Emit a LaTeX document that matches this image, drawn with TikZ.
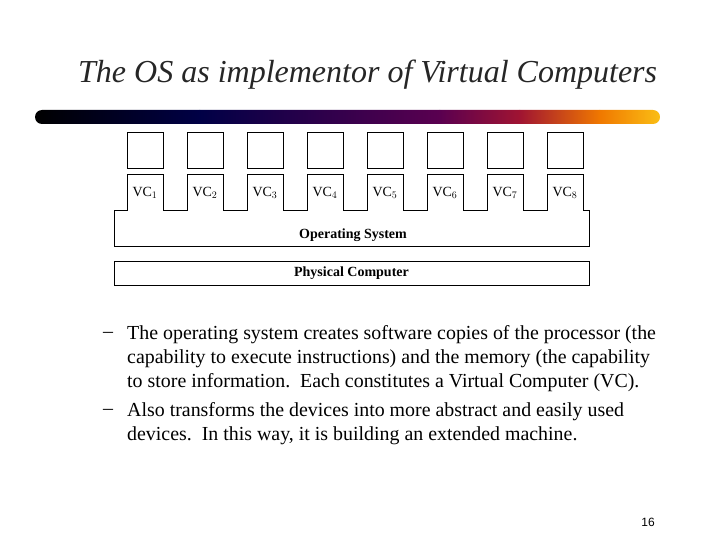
\documentclass[tikz,border=0pt]{standalone}
\usepackage{fontspec}
\setmainfont{Liberation Serif}
\setsansfont{Liberation Sans}
\begin{document}
\begin{tikzpicture}[x=1pt,y=-1pt,
  box/.style={draw,line width=0.8pt},
  lab/.style={font=\fontsize{14}{16}\selectfont},
  body/.style={font=\fontsize{19.9}{24}\selectfont,anchor=west,inner sep=0pt}]
\useasboundingbox (0,0) rectangle (720,540);
\node[anchor=west,inner sep=0pt,font=\fontsize{32}{36}\selectfont\itshape,text=black!85] (title) at (78,75) {The OS as implementor of Virtual Computers};
% gradient bar
\begin{scope}
\clip[rounded corners=7pt] (35,110) rectangle (660,124);
\shade[left color=black,right color={rgb,255:red,0;green,0;blue,70}] (35,110) rectangle (200,124);
\shade[left color={rgb,255:red,0;green,0;blue,70},right color={rgb,255:red,90;green,0;blue,80}] (199.5,110) rectangle (440,124);
\shade[left color={rgb,255:red,90;green,0;blue,80},right color={rgb,255:red,160;green,20;blue,50}] (439.5,110) rectangle (520,124);
\shade[left color={rgb,255:red,160;green,20;blue,50},right color={rgb,255:red,240;green,120;blue,0}] (519.5,110) rectangle (600,124);
\shade[left color={rgb,255:red,240;green,120;blue,0},right color={rgb,255:red,250;green,190;blue,20}] (599.5,110) rectangle (660,124);
\end{scope}
% OS outline with tabs
\draw[box] (114,210)
  \foreach \i in {0,...,7}{ -- ({127+60*\i},210) -- ({127+60*\i},174) -- ({163+60*\i},174) -- ({163+60*\i},210) }
  -- (589,210) -- (589,246) -- (114,246) -- cycle;
\foreach \i in {1,...,8}{
  \node[box,minimum width=36pt,minimum height=36pt,inner sep=0pt] (m\i) at ({145+60*(\i-1)},150) {};
  \node[lab] (vc\i) at ({145+60*(\i-1)},193) {VC$_{\i}$};
}
\node[lab,font=\fontsize{14}{16}\selectfont\bfseries] (os) at (353,235) {Operating System};
\node[box,minimum width=475pt,minimum height=24pt,inner sep=0pt] (pc) at (351.5,273) {};
\node[lab,font=\fontsize{14}{16}\selectfont\bfseries] (pct) at (351.5,273) {Physical Computer};
\foreach \y/\t [count=\k] in {335/{The operating system creates software copies of the processor (the},
  359/{capability to execute instructions) and the memory (the capability},
  383/{to store information.\ \ Each constitutes a Virtual Computer (VC).},
  412/{Also transforms the devices into more abstract and easily used},
  436/{devices.\ \ In this way, it is building an extended machine.}}
  \node[body] (t\k) at (127,\y) {\t};
\node[body] (d1) at (103,335) {--};
\node[body] (d2) at (103,412) {--};
\node[font=\sffamily\fontsize{12}{13}\selectfont] (pg) at (648,522) {16};
\end{tikzpicture}
\end{document}
